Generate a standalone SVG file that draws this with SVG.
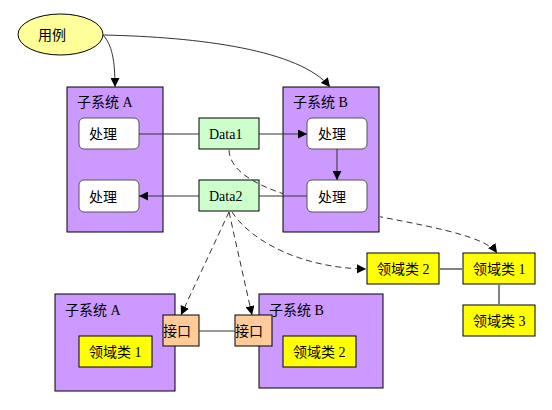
<svg xmlns="http://www.w3.org/2000/svg" width="552" height="410" viewBox="0 0 552 410">
<defs>
<marker id="ah" viewBox="0 0 10 10" refX="10" refY="5" markerWidth="9" markerHeight="9" markerUnits="userSpaceOnUse" orient="auto">
<path d="M0,0 L10,5 L0,10 Z" fill="#000"/>
</marker>
<clipPath id="notB">
<path clip-rule="evenodd" d="M0,0 H552 V410 H0 Z M283,87 H380 V233 H283 Z"/>
</clipPath>
</defs>
<style>
text{font-family:"Liberation Serif","Noto Sans CJK SC",serif;font-size:14px;fill:#000}
.sys{fill:#cc99ff;stroke:#000;stroke-width:1}
.proc{fill:#fff;stroke:#555;stroke-width:1}
.data{fill:#ccffcc;stroke:#000;stroke-width:1}
.dom{fill:#ffff00;stroke:#000;stroke-width:1}
.ifc{fill:#ffcc99;stroke:#000;stroke-width:1}
.c{fill:none;stroke:#333;stroke-width:1}
.g{fill:none;stroke:#808080;stroke-width:2}
.d{fill:none;stroke:#333;stroke-width:1;stroke-dasharray:6,4}
</style>
<rect width="552" height="410" fill="#fff"/>
<g id="usecase">
<ellipse cx="60.5" cy="34.5" rx="42.5" ry="20.5" fill="#ffff99" stroke="#000"/>
<text x="38" y="40">用例</text>
</g>
<g id="sysA">
<rect class="sys" x="67" y="87" width="96" height="145"/>
<text x="77" y="107">子系统 A</text>
</g>
<g id="procA1"><rect class="proc" x="79" y="118" width="60" height="31" rx="5"/><text x="89" y="139">处理</text></g>
<g id="procA2"><rect class="proc" x="79" y="180" width="60" height="32" rx="5"/><text x="89" y="202">处理</text></g>
<g id="sysB">
<rect class="sys" x="283" y="87" width="96" height="145"/>
<text x="293" y="107">子系统 B</text>
</g>
<g id="procB1"><rect class="proc" x="307" y="118" width="60" height="31" rx="5"/><text x="318" y="139">处理</text></g>
<g id="procB2"><rect class="proc" x="307" y="180" width="60" height="32" rx="5"/><text x="318" y="202">处理</text></g>
<g id="data1"><rect class="data" x="199" y="118" width="60" height="31"/><text x="209" y="139">Data1</text></g>
<g id="data2"><rect class="data" x="199" y="180" width="60" height="31"/><text x="209" y="201">Data2</text></g>
<g id="dom2"><rect class="dom" x="367" y="253" width="72" height="31"/><text x="377" y="274">领域类 2</text></g>
<g id="dom1"><rect class="dom" x="463" y="253" width="72" height="31"/><text x="473" y="274">领域类 1</text></g>
<g id="dom3"><rect class="dom" x="463" y="305" width="72" height="31"/><text x="473" y="326">领域类 3</text></g>
<g id="sysA2">
<rect class="sys" x="55" y="294" width="120" height="97"/>
<text x="65" y="315">子系统 A</text>
</g>
<g id="sysA2dom"><rect class="dom" x="79" y="336" width="73" height="31"/><text x="89" y="357">领域类 1</text></g>
<g id="sysB2">
<rect class="sys" x="259" y="294" width="124" height="94"/>
<text x="269" y="315">子系统 B</text>
</g>
<g id="sysB2dom"><rect class="dom" x="283" y="336" width="73" height="31"/><text x="293" y="357">领域类 2</text></g>
<g id="ifcA"><rect class="ifc" x="163" y="315" width="36" height="31"/><text x="163" y="336">接口</text></g>
<g id="ifcB"><rect class="ifc" x="235" y="315" width="37" height="31"/><text x="235" y="336">接口</text></g>
<g id="connectors">
<path class="c" d="M103,35 C112,45 115,60 115,87" marker-end="url(#ah)"/>
<path class="c" d="M103,35 C200,37 300,50 330,87" marker-end="url(#ah)"/>
<path class="c" d="M139,134 L199,134"/>
<path class="c" d="M259,134 L307,134" marker-end="url(#ah)"/>
<path class="c" d="M199,196 L139,196" marker-end="url(#ah)"/>
<path class="c" d="M307,196 L259,196"/>
<path class="c" d="M337,149 L337,180" marker-end="url(#ah)"/>
<path class="d" d="M229,150 C232,215 470,215 497,253" marker-end="url(#ah)" clip-path="url(#notB)"/>
<path class="d" d="M232,212 C250,240 300,268 366,269" marker-end="url(#ah)"/>
<path class="d" d="M229,212 L181,315" marker-end="url(#ah)"/>
<path class="d" d="M229,212 L252,315" marker-end="url(#ah)"/>
<path class="g" d="M439,269 L463,269"/>
<path class="g" d="M499,284 L499,305"/>
<path class="c" d="M199,331 L235,331"/>
</g>
</svg>
